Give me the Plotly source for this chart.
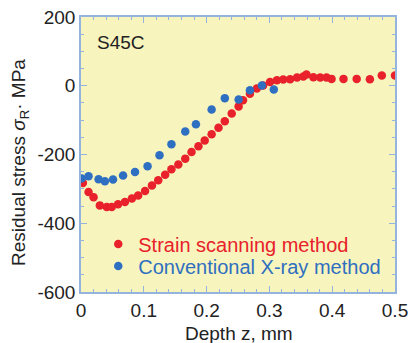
import plotly.graph_objects as go

# Strain scanning method (red)
red_depth = [0.003, 0.012, 0.020, 0.030, 0.041, 0.049, 0.059, 0.070, 0.081, 0.091,
             0.102, 0.113, 0.123, 0.134, 0.144, 0.155, 0.166, 0.176, 0.187, 0.197,
             0.208, 0.219, 0.229, 0.240, 0.251, 0.258, 0.269, 0.280, 0.290, 0.301,
             0.312, 0.322, 0.333, 0.344, 0.354, 0.359, 0.370, 0.381, 0.391, 0.399,
             0.418, 0.439, 0.460, 0.479, 0.500]
red_stress = [-283, -309, -324, -348, -353, -353, -345, -338, -328, -319,
              -306, -290, -275, -259, -243, -229, -212, -193, -176, -159,
              -141, -122, -103, -81, -60, -42, -23, -8, 1, 11,
              16, 18, 19, 24, 27, 33, 25, 24, 24, 20,
              20, 20, 19, 30, 30]

# Conventional X-ray method (blue)
blue_depth = [0.001, 0.012, 0.028, 0.038, 0.051, 0.067, 0.086, 0.106, 0.125, 0.144,
              0.166, 0.183, 0.208, 0.229, 0.251, 0.269, 0.288, 0.307]
blue_stress = [-270, -263, -272, -278, -273, -261, -251, -234, -202, -170,
               -133, -112, -69, -36, -40, -13, 1, -11]

x_ticks = [0, 0.1, 0.2, 0.3, 0.4, 0.5]
y_ticks = [-600, -400, -200, 0, 200]

RED = "#e8212b"
BLUE = "#2f6fc1"
FRAME = "#94b4de"
FONT = "Liberation Sans, Arial"

fig = go.Figure()
fig.add_trace(go.Scatter(
    x=red_depth, y=red_stress, mode="markers",
    marker=dict(color=RED, size=8.5),
    name="Strain scanning method", legend="legend"))
fig.add_trace(go.Scatter(
    x=blue_depth, y=blue_stress, mode="markers",
    marker=dict(color=BLUE, size=8.5),
    name="Conventional X-ray method", legend="legend2"))

axis_common = dict(
    showgrid=False, zeroline=False, showline=True, linecolor=FRAME, linewidth=1.5,
    mirror="ticks", ticks="inside", tickcolor=FRAME, ticklen=6, tickwidth=1,
    automargin=False,
    tickfont=dict(family=FONT, size=19, color="#222"),
)

legend_common = dict(xanchor="left", yanchor="middle", bgcolor="rgba(0,0,0,0)",
                     itemwidth=30, borderwidth=0)

fig.update_layout(
    width=410, height=343,
    margin=dict(l=81, r=15, t=17, b=51),
    paper_bgcolor="white", plot_bgcolor="#f7f4bd",
    font=dict(family=FONT, color="#222"),
    xaxis=dict(range=[0, 0.5], tickvals=x_ticks, ticktext=[str(v) for v in x_ticks],
               minor=dict(dtick=0.02, ticks="inside", ticklen=3, tickcolor=FRAME),
               **axis_common),
    yaxis=dict(range=[-600, 200], tickvals=y_ticks, ticktext=[str(v) for v in y_ticks],
               minor=dict(dtick=50, ticks="inside", ticklen=3, tickcolor=FRAME),
               **axis_common),
    legend=dict(x=0.055, y=1 - (244 - 17) / 275, font=dict(size=20, color=RED),
                **legend_common),
    legend2=dict(x=0.055, y=1 - (266 - 17) / 275, font=dict(size=20, color=BLUE),
                 **legend_common),
    showlegend=True,
    annotations=[
        dict(text="S45C", x=(95 - 81) / 314, y=1 - (30 - 17) / 275, xref="paper", yref="paper",
             xanchor="left", yanchor="top", showarrow=False,
             font=dict(size=19, color="#222")),
        dict(text="Depth z, mm", x=(239 - 81) / 314, y=-(333 - 292) / 275, xref="paper", yref="paper",
             xanchor="center", yanchor="middle", showarrow=False,
             font=dict(size=19, color="#222")),
        dict(text="Residual stress <i>σ</i><sub>R</sub>· MPa", x=-(81 - 20) / 314,
             y=1 - (163 - 17) / 275,
             xref="paper", yref="paper", xanchor="center", yanchor="middle",
             textangle=-90, showarrow=False, font=dict(size=19, color="#222")),
    ],
)

fig.write_html("out.html", config={"displayModeBar": False},
               post_script="document.body.style.margin='0';document.body.style.overflow='hidden';")
